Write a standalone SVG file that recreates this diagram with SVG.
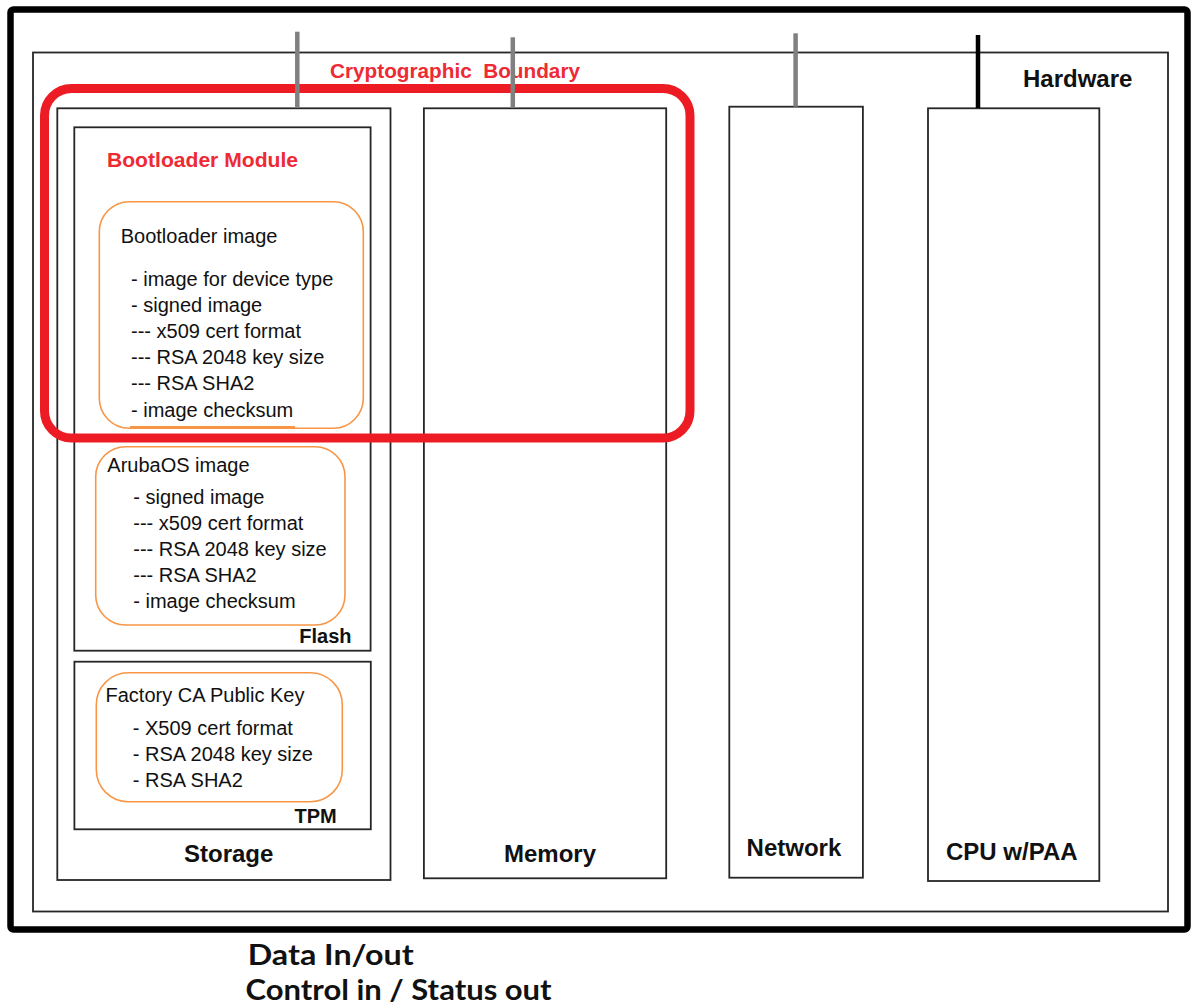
<svg xmlns="http://www.w3.org/2000/svg" width="1191" height="1004" viewBox="0 0 1191 1004">
<style>
  .box { fill: none; stroke: #262626; stroke-width: 1.8; }
  .obox { fill: none; stroke: #F79646; stroke-width: 1.6; }
  .t { font-family: "Liberation Sans", Arial, sans-serif; font-size: 20px; fill: #111; }
  .lbl { font-family: "Liberation Sans", Arial, sans-serif; font-weight: bold; font-size: 24px; fill: #111; }
  .sm { font-family: "Liberation Sans", Arial, sans-serif; font-weight: bold; font-size: 20px; fill: #111; }
  .red { font-family: "Liberation Sans", Arial, sans-serif; font-weight: bold; fill: #EE2A35; }
  .cal { font-family: Lato, "Open Sans", "Liberation Sans", sans-serif; font-weight: bold; font-size: 29px; fill: #111; }
  .gray { stroke: #808080; stroke-width: 4.5; }
  .blk { stroke: #000; stroke-width: 4.5; }
</style>
<rect width="1191" height="1004" fill="#fff"/>

<g id="frame">
  <rect x="10.5" y="9.5" width="1177" height="920" rx="3" fill="none" stroke="#000" stroke-width="6.5"/>
</g>

<g id="hardware">
  <rect class="box" x="33" y="52.5" width="1135" height="859"/>
  <text class="lbl" x="1023" y="87">Hardware</text>
</g>

<g id="storage">
  <rect class="box" x="57.3" y="108.3" width="333.2" height="771.7"/>
  <text class="lbl" x="184" y="862">Storage</text>
</g>

<g id="flash">
  <rect class="box" x="74.3" y="127.3" width="296.3" height="523.4"/>
  <text class="sm" x="299.3" y="643">Flash</text>
</g>

<g id="bootloader-module">
  <text class="red" x="107" y="167" font-size="20" textLength="191" lengthAdjust="spacingAndGlyphs">Bootloader Module</text>
</g>

<g id="bootloader-image">
  <rect class="obox" x="99.3" y="201.7" width="264" height="226.6" rx="30"/>
  <line x1="130" y1="427.3" x2="295" y2="427.3" stroke="#F79646" stroke-width="2.5"/>
  <text class="t" x="120.7" y="243.3">Bootloader image</text>
  <text class="t" x="131" y="286">- image for device type</text>
  <text class="t" x="131" y="312">- signed image</text>
  <text class="t" x="131" y="338">--- x509 cert format</text>
  <text class="t" x="131" y="364">--- RSA 2048 key size</text>
  <text class="t" x="131" y="390">--- RSA SHA2</text>
  <text class="t" x="131" y="416.5">- image checksum</text>
</g>

<g id="arubaos-image">
  <rect class="obox" x="95.7" y="446.7" width="249.3" height="178.3" rx="30"/>
  <text class="t" x="107.3" y="472.3">ArubaOS image</text>
  <text class="t" x="133.3" y="504">- signed image</text>
  <text class="t" x="133.3" y="530">--- x509 cert format</text>
  <text class="t" x="133.3" y="556">--- RSA 2048 key size</text>
  <text class="t" x="133.3" y="582">--- RSA SHA2</text>
  <text class="t" x="133.3" y="608">- image checksum</text>
</g>

<g id="tpm">
  <rect class="box" x="74.4" y="661.7" width="296.4" height="167.6"/>
  <text class="sm" x="294.5" y="822.7">TPM</text>
</g>

<g id="factory-ca">
  <rect class="obox" x="96.3" y="672.7" width="246" height="129" rx="32"/>
  <text class="t" x="105.5" y="701.7">Factory CA Public Key</text>
  <text class="t" x="132.8" y="735">- X509 cert format</text>
  <text class="t" x="132.8" y="761">- RSA 2048 key size</text>
  <text class="t" x="132.8" y="787">- RSA SHA2</text>
</g>

<g id="memory">
  <rect class="box" x="423.9" y="108.3" width="242.3" height="770"/>
  <text class="lbl" x="504" y="862">Memory</text>
</g>

<g id="network">
  <rect class="box" x="729.3" y="106.7" width="133.6" height="771"/>
  <text class="lbl" x="746.6" y="856">Network</text>
</g>

<g id="cpu">
  <rect class="box" x="928" y="108.3" width="171.3" height="772.7"/>
  <text class="lbl" x="946" y="860">CPU w/PAA</text>
</g>

<g id="crypto-boundary">
  <rect x="44.5" y="88.5" width="645.5" height="349.5" rx="27" fill="none" stroke="#ED1C24" stroke-width="9"/>
  <text class="red" x="330" y="78.3" font-size="20" xml:space="preserve" textLength="250" lengthAdjust="spacingAndGlyphs">Cryptographic  Boundary</text>
</g>

<g id="connectors">
  <line class="gray" x1="297.3" y1="31.7" x2="297.3" y2="108"/>
  <line class="gray" x1="512.8" y1="37.3" x2="512.8" y2="108"/>
  <line class="gray" x1="795.6" y1="33.3" x2="795.6" y2="106.7"/>
  <line class="blk" x1="978" y1="35" x2="978" y2="108"/>
</g>

<g id="io-labels">
  <text class="cal" x="247.7" y="965" textLength="166" lengthAdjust="spacingAndGlyphs">Data In/out</text>
  <text class="cal" x="245.6" y="1000" textLength="306" lengthAdjust="spacingAndGlyphs">Control in / Status out</text>
</g>
</svg>
